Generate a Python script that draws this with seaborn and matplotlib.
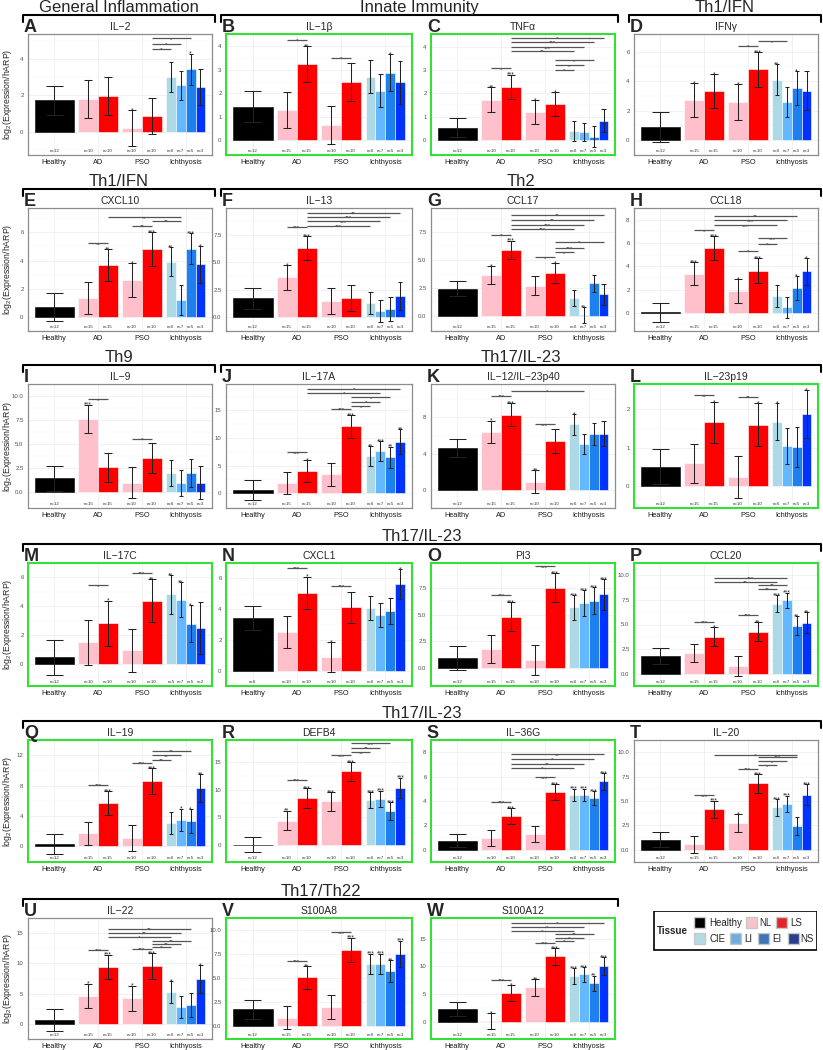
import matplotlib
matplotlib.use("Agg")
import matplotlib.pyplot as plt
import matplotlib.transforms as mtransforms
from matplotlib.lines import Line2D
from matplotlib.patches import Rectangle
import pandas as pd
import seaborn as sns

# ---- data ---------------------------------------------------------------
GROUPS = ["Healthy", "AD", "PSO", "Ichthyosis"]
BAR_GROUP = ["Healthy", "AD", "AD", "PSO", "PSO",
             "Ichthyosis", "Ichthyosis", "Ichthyosis", "Ichthyosis"]
BAR_TISSUE = ["Healthy", "NL", "LS", "NL", "LS", "CIE", "LI", "EI", "NS"]

N_STD = [12, 15, 15, 10, 10, 6, 7, 5, 3]
N_AD10 = [12, 10, 10, 10, 10, 6, 7, 5, 3]
N_M = [12, 10, 10, 10, 10, 5, 7, 5, 2]
N_N = [6, 10, 10, 10, 10, 6, 7, 5, 3]

# bars: Healthy, AD NL, AD LS, PSO NL, PSO LS, CIE, LI, EI, NS
A_MEAN = [1.72, 1.78, 1.95, 0.2, 0.88, 3.0, 2.55, 3.42, 2.45]
A_SE = [0.8, 1.05, 1.05, 1.0, 1.0, 0.82, 0.8, 0.87, 1.0]
A_STAR = ["", "", "", "*", "", "", "", "*", ""]
A_SIG = [(4, 5, 4.53, "*"), (4, 6, 4.82, "*"), (4, 7, 5.13, "*")]

B_MEAN = [1.43, 1.3, 3.25, 0.65, 2.48, 2.7, 2.1, 2.88, 2.47]
B_SE = [0.67, 0.77, 0.77, 0.81, 0.81, 0.71, 0.7, 0.78, 0.92]
B_STAR = ["", "", "**", "", "", "", "", "*", ""]
B_SIG = [(1, 2, 4.29, "*"), (3, 4, 3.5, "*")]

C_MEAN = [0.53, 1.72, 2.27, 1.2, 1.55, 0.4, 0.35, 0.15, 0.83]
C_SE = [0.42, 0.54, 0.53, 0.5, 0.5, 0.42, 0.4, 0.44, 0.5]
C_STAR = ["", "**", "***", "*", "*", "", "", "", ""]
C_SIG = [(1, 2, 3.07, "*"), (4, 5, 3.0, "*"), (4, 6, 3.2, "*"), (4, 7, 3.41, "*"),
         (2, 5, 3.82, "**"), (2, 6, 3.97, "***"), (2, 7, 4.19, "***"), (2, 8, 4.39, "*")]

D_MEAN = [0.9, 2.72, 3.32, 2.6, 4.8, 4.1, 2.6, 3.52, 3.37]
D_SE = [1.0, 1.15, 1.15, 1.2, 1.2, 1.05, 1.03, 1.15, 1.35]
D_STAR = ["", "*", "*", "*", "***", "**", "", "*", ""]
D_SIG = [(3, 4, 6.42, "*"), (4, 6, 6.71, "*")]

E_MEAN = [0.72, 1.35, 3.68, 2.62, 4.83, 3.92, 1.22, 4.85, 3.72]
E_SE = [0.98, 1.15, 1.14, 1.22, 1.2, 1.02, 1.05, 1.1, 1.3]
E_STAR = ["", "", "**", "*", "***", "**", "", "***", "*"]
E_SIG = [(1, 2, 5.22, "**"), (3, 4, 6.44, "**"), (4, 6, 6.8, "**"), (2, 6, 7.07, "*")]

F_MEAN = [1.72, 3.62, 6.3, 1.47, 1.72, 1.27, 0.55, 0.75, 1.93]
F_SE = [0.98, 1.1, 1.1, 1.17, 1.17, 1.0, 1.0, 1.07, 1.25]
F_STAR = ["", "*", "***", "", "", "", "", "", ""]
F_SIG = [(1, 2, 8.2, "***"), (2, 5, 8.32, "***"), (2, 6, 8.72, "***"),
         (2, 7, 9.12, "***"), (2, 8, 9.48, "**")]

G_MEAN = [2.45, 3.65, 5.95, 2.7, 3.85, 1.6, 0.1, 2.95, 1.93]
G_SE = [0.7, 0.8, 0.82, 0.85, 0.86, 0.75, 0.72, 0.77, 0.92]
G_STAR = ["", "*", "***", "", "*", "", "**", "", ""]
G_SIG = [(1, 2, 7.29, "*"), (3, 4, 5.27, "*"), (4, 5, 5.72, "*"), (4, 6, 6.14, "***"),
         (4, 8, 6.63, "*"), (2, 5, 7.8, "***"), (2, 6, 8.19, "***"), (2, 7, 8.64, "**"),
         (2, 8, 9.1, "**")]

H_MEAN = [0.03, 3.35, 5.55, 1.87, 3.62, 1.47, 0.47, 2.13, 3.55]
H_SE = [0.85, 1.0, 1.03, 1.06, 1.06, 0.95, 0.93, 1.0, 1.18]
H_STAR = ["", "***", "***", "*", "***", "", "", "*", "*"]
H_SIG = [(1, 2, 7.07, "*"), (3, 4, 5.31, "*"), (4, 5, 5.94, "*"), (4, 6, 6.39, "***"),
         (2, 5, 7.5, "***"), (2, 6, 7.93, "***"), (2, 7, 8.32, "**")]

I_MEAN = [1.37, 7.6, 2.52, 0.92, 3.5, 1.9, 0.93, 1.97, 0.93]
I_SE = [1.28, 1.5, 1.5, 1.6, 1.6, 1.36, 1.35, 1.47, 1.75]
I_STAR = ["", "***", "", "", "", "", "", "", ""]
I_SIG = [(1, 2, 9.64, "*"), (3, 4, 5.49, "*")]

J_MEAN = [0.6, 1.9, 4.05, 3.45, 12.1, 6.75, 7.67, 6.5, 9.3]
J_SE = [1.8, 2.0, 2.0, 2.1, 2.1, 1.85, 1.78, 1.95, 2.25]
J_STAR = ["", "", "*", "", "***", "**", "***", "**", "**"]
J_SIG = [(1, 2, 7.4, "***"), (3, 4, 15.27, "***"), (4, 5, 15.76, "*"), (4, 6, 16.55, "*"),
         (4, 7, 17.4, "*"), (2, 6, 18.2, "*"), (2, 8, 18.9, "*")]

K_MEAN = [4.6, 6.42, 8.3, 0.9, 5.4, 7.25, 5.12, 6.15, 6.2]
K_SE = [1.0, 1.23, 1.25, 1.28, 1.3, 1.15, 1.1, 1.2, 1.4]
K_STAR = ["", "*", "***", "**", "", "*", "", "", ""]
K_SIG = [(1, 2, 10.38, "***"), (3, 4, 7.24, "***"), (2, 6, 10.92, "*")]

L_MEAN = [0.5, 0.58, 1.66, 0.23, 1.6, 1.68, 1.04, 1.02, 1.88]
L_SE = [0.45, 0.52, 0.53, 0.56, 0.56, 0.48, 0.48, 0.52, 0.62]
L_STAR = ["", "", "*", "", "*", "*", "", "", "*"]
L_SIG = [(1, 2, 2.37, "**"), (3, 4, 2.34, "**")]

M_MEAN = [0.47, 1.5, 2.82, 0.95, 4.38, 4.83, 4.47, 2.8, 2.48]
M_SE = [1.2, 1.58, 1.58, 1.5, 1.5, 1.33, 1.22, 1.3, 1.8]
M_STAR = ["", "", "*", "", "**", "**", "**", "*", ""]
M_SIG = [(1, 2, 5.45, "*"), (3, 4, 6.34, "***")]

N_MEAN = [3.42, 2.52, 5.07, 0.9, 4.12, 4.07, 3.6, 3.87, 5.65]
N_SE = [0.76, 1.05, 1.05, 0.98, 1.0, 0.77, 0.77, 0.83, 0.98]
N_STAR = ["", "", "*", "*", "", "", "", "", "*"]
N_SIG = [(1, 2, 6.69, "***"), (3, 4, 5.52, "***")]

O_MEAN = [0.9, 1.77, 4.82, 0.75, 7.55, 5.68, 6.1, 6.32, 6.9]
O_SE = [1.1, 1.33, 1.33, 1.42, 1.4, 1.2, 1.2, 1.27, 1.48]
O_STAR = ["", "", "***", "", "***", "***", "***", "***", "***"]
O_SIG = [(1, 2, 6.87, "***"), (3, 4, 9.56, "***")]

P_MEAN = [1.82, 2.08, 3.78, 0.78, 4.28, 7.12, 7.45, 4.88, 5.18]
P_SE = [0.8, 0.93, 0.93, 0.97, 0.98, 0.86, 0.8, 0.94, 1.07]
P_STAR = ["", "", "*", "", "**", "***", "***", "**", "**"]
P_SIG = [(1, 2, 5.29, "***"), (3, 4, 5.96, "***"), (4, 5, 8.65, "**"), (4, 6, 9.02, "**"),
         (2, 5, 9.33, "**"), (2, 6, 9.72, "***")]

Q_MEAN = [0.3, 1.72, 5.68, 1.1, 8.6, 3.05, 3.5, 3.37, 7.7]
Q_SE = [1.3, 1.55, 1.57, 1.65, 1.65, 1.47, 1.47, 1.55, 1.85]
Q_STAR = ["", "", "***", "", "***", "", "*", "*", "**"]
Q_SIG = [(1, 2, 8.1, "***"), (3, 4, 11.0, "***"), (4, 5, 11.4, "**"), (4, 6, 12.0, "**"),
         (4, 7, 12.55, "**")]

R_MEAN = [0.05, 4.4, 8.47, 7.88, 13.3, 8.1, 8.32, 6.15, 10.3]
R_SE = [1.4, 1.8, 1.82, 1.72, 1.7, 1.45, 1.5, 1.6, 1.85]
R_STAR = ["", "**", "***", "***", "***", "***", "***", "***", "***"]
R_SIG = [(1, 2, 11.77, "***"), (3, 4, 16.2, "***"), (4, 5, 16.7, "**"), (4, 6, 17.6, "**"),
         (4, 7, 18.35, "***")]

S_MEAN = [0.75, 1.0, 2.75, 1.3, 4.75, 4.5, 4.5, 4.23, 5.6]
S_SE = [0.52, 0.65, 0.65, 0.62, 0.63, 0.52, 0.52, 0.57, 0.67]
S_STAR = ["", "", "***", "", "***", "***", "***", "***", "***"]
S_SIG = [(1, 2, 3.92, "***"), (3, 4, 5.95, "***"), (2, 5, 6.71, "*"), (2, 6, 7.06, "**"),
         (2, 7, 7.47, "*"), (2, 8, 7.82, "**")]

T_MEAN = [1.02, 0.55, 4.15, 2.75, 6.8, 4.35, 4.72, 2.42, 5.65]
T_SE = [0.78, 0.9, 0.9, 0.95, 0.95, 0.85, 0.83, 0.93, 1.08]
T_STAR = ["", "", "***", "*", "***", "***", "***", "", "***"]
T_SIG = [(1, 2, 5.58, "***"), (3, 4, 8.29, "***"), (4, 5, 8.66, "*"), (4, 6, 9.06, "*"),
         (4, 7, 9.5, "***"), (2, 7, 9.75, "*")]

U_MEAN = [0.68, 4.65, 9.45, 4.2, 9.6, 5.27, 2.85, 3.08, 7.38]
U_SE = [1.8, 2.0, 2.0, 2.12, 2.15, 1.78, 1.83, 1.95, 2.33]
U_STAR = ["", "*", "***", "*", "***", "*", "", "", "*"]
U_SIG = [(1, 2, 12.2, "***"), (3, 4, 12.37, "***"), (4, 5, 12.73, "*"), (4, 6, 13.25, "**"),
         (4, 7, 13.76, "**"), (2, 5, 14.33, "*"), (2, 6, 15.0, "**"), (2, 7, 15.67, "**")]

V_MEAN = [1.72, 0.8, 5.03, 1.92, 7.93, 6.45, 6.45, 5.72, 7.52]
V_SE = [1.0, 1.2, 1.2, 1.25, 1.27, 1.08, 1.08, 1.17, 1.37]
V_STAR = ["", "", "**", "", "***", "***", "***", "**", "***"]
V_SIG = [(1, 2, 6.78, "***"), (3, 4, 9.75, "***")]

W_MEAN = [2.35, 0.1, 5.15, 6.25, 11.85, 8.3, 8.57, 6.95, 10.05]
W_SE = [1.25, 1.45, 1.45, 1.5, 1.5, 1.4, 1.33, 1.4, 1.6]
W_STAR = ["", "*", "*", "**", "***", "***", "***", "**", "***"]
W_SIG = [(1, 2, 7.62, "***"), (3, 4, 14.29, "***"), (4, 5, 14.6, "*"), (4, 6, 15.2, "*"),
         (4, 7, 15.9, "**"), (2, 5, 16.4, "*"), (2, 6, 17.1, "*"), (2, 8, 17.9, "*")]

GENES = {"A": "IL−2", "B": "IL−1β", "C": "TNFα", "D": "IFNγ", "E": "CXCL10",
         "F": "IL−13", "G": "CCL17", "H": "CCL18", "I": "IL−9", "J": "IL−17A",
         "K": "IL−12/IL−23p40", "L": "IL−23p19", "M": "IL−17C", "N": "CXCL1",
         "O": "PI3", "P": "CCL20", "Q": "IL−19", "R": "DEFB4", "S": "IL−36G",
         "T": "IL−20", "U": "IL−22", "V": "S100A8", "W": "S100A12"}

LEGEND_TISSUES = ["Healthy", "NL", "LS", "CIE", "LI", "EI", "NS"]

# ---- styling ------------------------------------------------------------
BAR_COLORS = {"Healthy": "#000000", "NL": "#FFC0CB", "LS": "#FF0000",
              "CIE": "#ADD8E6", "LI": "#63B8FF", "EI": "#1E80EE", "NS": "#0033FF"}
LEGEND_COLORS = {"Healthy": "#000000", "NL": "#F5C3CA", "LS": "#E0262A",
                 "CIE": "#B2DCE2", "LI": "#6FAEDB", "EI": "#3E74B8", "NS": "#2B3E8C"}
GREEN = set("BCLMNOPQRSVW")

# ylim, major ticks per panel
AXCFG = {
    "A": ((-1.27, 5.36), [0, 2, 4]), "B": ((-0.64, 4.53), [0, 1, 2, 3, 4]),
    "C": ((-0.64, 4.54), [0, 1, 2, 3, 4]), "D": ((-0.67, 7.2), [0, 2, 4, 6]),
    "E": ((-0.87, 7.73), [0, 2, 4, 6]), "F": ((-1.25, 9.94), [0, 2.5, 5, 7.5]),
    "G": ((-1.36, 9.7), [0, 2.5, 5, 7.5]), "H": ((-1.56, 8.86), [0, 2, 4, 6, 8]),
    "I": ((-1.72, 10.36), [0, 2.5, 5, 7.5, 10]), "J": ((-2.7, 19.8), [0, 5, 10, 15]),
    "K": ((-1.33, 11.7), [0, 4, 8]), "L": ((-0.59, 2.67), [0, 1, 2]),
    "M": ((-1.52, 6.72), [0, 2, 4, 6]), "N": ((-0.9, 6.99), [0, 2, 4, 6]),
    "O": ((-1.74, 9.87), [0, 2.5, 5, 7.5]), "P": ((-1.22, 10.0), [0, 2.5, 5, 7.5, 10]),
    "Q": ((-2.06, 12.96), [0, 4, 8, 12]), "R": ((-3.1, 18.96), [0, 5, 10, 15]),
    "S": ((-0.81, 8.43), [0, 2, 4, 6, 8]), "T": ((-1.21, 10.0), [0, 2.5, 5, 7.5, 10]),
    "U": ((-2.37, 16.3), [0, 5, 10, 15]), "V": ((-1.4, 10.19), [0, 2.5, 5, 7.5, 10]),
    "W": ((-3.1, 18.75), [0, 5, 10, 15]),
}

GRID = [list("ABCD"), list("EFGH"), list("IJKL"), list("MNOP"), list("QRST"), list("UVW")]
COL_X = [(28, 212), (226, 412), (431, 615), (634, 818)]
ROW_Y = [(34, 155), (208, 331), (384, 508), (563, 686), (740, 862), (918, 1039)]
HEADERS = [(0, "General Inflammation", 0, 0), (0, "Innate Immunity", 1, 2), (0, "Th1/IFN", 3, 3),
           (1, "Th1/IFN", 0, 0), (1, "Th2", 1, 3),
           (2, "Th9", 0, 0), (2, "Th17/IL-23", 1, 3),
           (3, "Th17/IL-23", 0, 3), (4, "Th17/IL-23", 0, 3),
           (5, "Th17/Th22", 0, 2)]

W_PX, H_PX = 823, 1050

sns.set_style("white")
plt.rcParams["font.family"] = ["Liberation Sans", "DejaVu Sans"]
plt.rcParams["mathtext.fontset"] = "custom"
plt.rcParams["mathtext.rm"] = "Liberation Sans"
plt.rcParams["mathtext.it"] = "Liberation Sans:italic"


def fx(x):
    return x / W_PX


def fy(y):
    return 1 - y / H_PX


def draw_panel(ax, letter):
    mean = globals()[letter + "_MEAN"]
    se = globals()[letter + "_SE"]
    stars = globals()[letter + "_STAR"]
    sig = globals()[letter + "_SIG"]
    ns = {"M": N_M, "N": N_N}.get(letter, N_AD10 if letter in "ACRS" else N_STD)
    ylim, yticks = AXCFG[letter]

    df = pd.DataFrame({"group": BAR_GROUP, "tissue": BAR_TISSUE, "value": mean})
    centers, widths = [], []
    for g in GROUPS:
        sub = df[df["group"] == g]
        hues = sub["tissue"].tolist()
        n0 = len(ax.patches)
        sns.barplot(data=sub, x="group", y="value", hue="tissue", hue_order=hues,
                    order=GROUPS, palette={t: BAR_COLORS[t] for t in hues},
                    width=0.9, dodge=True, errorbar=None, legend=False, saturation=1,
                    edgecolor="black" if g == "Healthy" else "white", linewidth=0.4, ax=ax)
        new = sorted(ax.patches[n0:], key=lambda p: p.get_x())
        centers += [p.get_x() + p.get_width() / 2 for p in new]
        widths += [p.get_width() for p in new]

    lo = [m - s for m, s in zip(mean, se)]
    hi = [m + s for m, s in zip(mean, se)]
    ecol = "#222222"
    ax.vlines(centers, lo, hi, color=ecol, lw=0.75, zorder=4)
    half = [0.21 * w for w in widths]
    for c, h, a, b in zip(centers, half, lo, hi):
        ax.hlines([a, b], c - h, c + h, color=ecol, lw=0.75, zorder=4)

    for c, b, s in zip(centers, hi, stars):
        if s:
            ax.annotate(s, (c, b), xytext=(0, -1.6), textcoords="offset points",
                        ha="center", va="baseline", fontsize=4.8, color="#222222")

    for i, j, y, s in sig:
        ax.plot([centers[i], centers[j]], [y, y], color="#555555", lw=0.9,
                solid_capstyle="butt", zorder=4)
        ax.annotate(s, ((centers[i] + centers[j]) / 2, y), xytext=(0, -1.7),
                    textcoords="offset points", ha="center", va="baseline",
                    fontsize=4.5, color="#333333")

    trans = mtransforms.blended_transform_factory(ax.transData, ax.transAxes)
    for c, n in zip(centers, ns):
        ax.text(c, 0.015, f"n={n}", transform=trans, ha="center", va="bottom",
                fontsize=3.2, color="#333333")

    ax.set_xlim(-0.6, 3.6)
    ax.set_ylim(*ylim)
    ax.set_xticks(range(4))
    ax.set_xticklabels(GROUPS)
    ax.set_yticks(yticks)
    fmt = "{:.1f}" if any(t % 1 for t in yticks) else "{:.0f}"
    ax.set_yticklabels([fmt.format(t) for t in yticks])
    step = yticks[1] - yticks[0]
    ax.set_yticks([t + step / 2 for t in [yticks[0] - step] + yticks], minor=True)
    ax.set_xlabel("")
    ax.set_ylabel("")
    ax.set_axisbelow(True)
    ax.grid(True, which="major", color="#EBEBEB", lw=0.5)
    ax.grid(True, which="minor", axis="y", color="#F4F4F4", lw=0.3)
    ax.tick_params(axis="x", labelsize=5.3, length=2, width=0.5, color="#333333",
                   pad=1.2, labelcolor="#1A1A1A")
    ax.tick_params(axis="y", labelsize=4.3, length=2, width=0.5, color="#333333",
                   pad=1.2, labelcolor="#4D4D4D")
    ax.tick_params(which="minor", length=0)
    for sp in ax.spines.values():
        if letter in GREEN:
            sp.set_color("#33E033")
            sp.set_linewidth(1.5)
        else:
            sp.set_color("#8C8C8C")
            sp.set_linewidth(0.9)
        sp.set_visible(True)

    ax.set_title(GENES[letter], fontsize=7.5, pad=3)
    ax.annotate(letter, (0, 1), xycoords="axes fraction", xytext=(-3, 1.5),
                textcoords="offset points", ha="left", va="baseline",
                fontsize=13, fontweight="bold")


fig = plt.figure(figsize=(W_PX / 100, H_PX / 100), dpi=100)

for r, row in enumerate(GRID):
    t, b = ROW_Y[r]
    for c, letter in enumerate(row):
        l, rr = COL_X[c]
        ax = fig.add_axes([fx(l), fy(b), (rr - l) / W_PX, (b - t) / H_PX])
        draw_panel(ax, letter)
    fig.text(fx(8), fy((t + b) / 2), r"log$_2$(Expression/hARP)", rotation=90,
             ha="center", va="center", fontsize=6.3)

# group headers with brackets
for r, text, c0, c1 in HEADERS:
    y = ROW_Y[r][0] - 19
    x0 = COL_X[c0][0] - 5
    x1 = COL_X[c1][1] + 3
    fig.add_artist(Line2D([fx(x0), fx(x0), fx(x1), fx(x1)],
                          [fy(y + 7), fy(y), fy(y), fy(y + 7)],
                          transform=fig.transFigure, color="black", lw=1.5))
    fig.text(fx((x0 + x1) / 2), fy(y - 3), text, ha="center", va="baseline", fontsize=12)

# legend
lax = fig.add_axes([fx(653), fy(951), (817 - 653) / W_PX, (951 - 911) / H_PX])
lax.set_xlim(653, 817)
lax.set_ylim(951, 911)
lax.axis("off")
lax.add_patch(Rectangle((653.5, 911.5), 163, 39, fill=False, ec="black", lw=1.2))
lax.text(672, 931, "Tissue", ha="center", va="center", fontsize=7, fontweight="bold")
key_rows = [(923, [(694, 709), (746, 759), (776, 790)], LEGEND_TISSUES[:3]),
            (939, [(694, 709), (730, 744), (758, 772), (788, 800)], LEGEND_TISSUES[3:])]
for yc, slots, names in key_rows:
    for (kx, tx), name in zip(slots, names):
        lax.add_patch(Rectangle((kx, yc - 5.5), 11, 11, fc=LEGEND_COLORS[name],
                                ec="#C8C8C8", lw=1.0))
        lax.text(tx, yc, name, ha="left", va="center", fontsize=7)

fig.savefig("out.png", dpi=100)
